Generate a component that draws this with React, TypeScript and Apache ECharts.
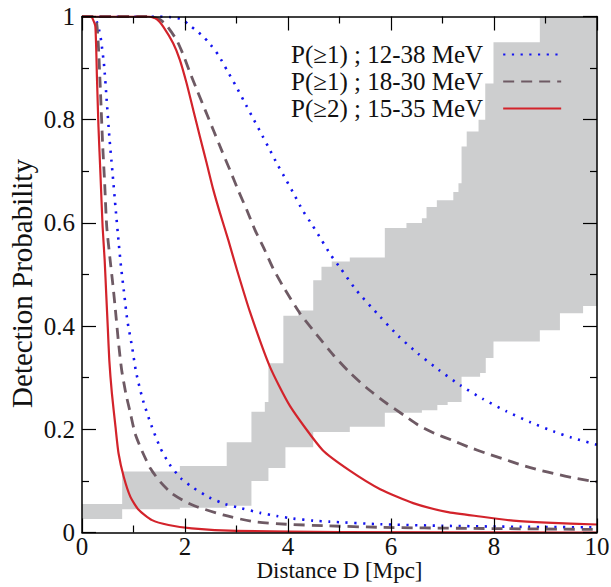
import React, { useEffect, useRef } from 'react';
import * as echarts from 'echarts';

const FONT = '"Liberation Serif", "Times New Roman", serif';
const TEXT = '#111111';
const BAND_COLOR = '#cdcecf';
const BLUE = '#1414f0';
const BROWN = '#6e5a64';
const RED = '#d3232b';

const NAME_12_38 = 'P(≥1) ; 12-38 MeV';
const NAME_18_30 = 'P(≥1) ; 18-30 MeV';
const NAME_15_35 = 'P(≥2) ; 15-35 MeV';

const X_MIN = 0;
const X_MAX = 10;
const X_INTERVAL = 2;
const Y_MIN = 0;
const Y_MAX = 1;
const Y_INTERVAL = 0.2;

// Blue dotted, P(>=1) 12-38 MeV — near curve
const blueNearX = [0, 0.2, 0.26, 0.29, 0.336, 0.37, 0.43, 0.48, 0.53, 0.59, 0.65, 0.71, 0.76, 0.82, 0.88, 0.97, 1.05, 1.17, 1.33, 1.52, 1.7, 1.92, 2.17, 2.47, 2.78, 3.1, 3.46, 3.78, 4.1, 4.49, 4.8, 5.8, 7, 8.5, 10];
const blueNearY = [1, 1, 0.998, 0.989, 0.972, 0.954, 0.904, 0.837, 0.768, 0.7, 0.631, 0.564, 0.513, 0.462, 0.411, 0.361, 0.311, 0.261, 0.212, 0.164, 0.132, 0.105, 0.086, 0.068, 0.055, 0.047, 0.038, 0.032, 0.027, 0.023, 0.021, 0.016, 0.013, 0.011, 0.01];
// Blue dotted — far curve
const blueFarX = [0, 1.5, 1.7, 1.94, 2.06, 2.19, 2.32, 2.45, 2.65, 2.82, 2.99, 3.15, 3.31, 3.47, 3.63, 3.79, 3.96, 4.12, 4.28, 4.47, 4.65, 4.83, 5.02, 5.33, 5.79, 6.14, 6.52, 6.93, 7.35, 7.78, 8.24, 8.7, 9.18, 9.5, 10];
const blueFarY = [1, 1, 0.999, 0.995, 0.985, 0.975, 0.964, 0.951, 0.925, 0.895, 0.865, 0.835, 0.805, 0.775, 0.745, 0.714, 0.684, 0.655, 0.625, 0.596, 0.567, 0.538, 0.512, 0.469, 0.418, 0.381, 0.347, 0.315, 0.285, 0.259, 0.235, 0.214, 0.195, 0.184, 0.17];

// Brown dashed, P(>=1) 18-30 MeV — near curve
const brownNearX = [0, 0.2, 0.28, 0.32, 0.36, 0.4, 0.44, 0.48, 0.55, 0.6, 0.65, 0.71, 0.77, 0.85, 0.94, 1.03, 1.17, 1.33, 1.52, 1.74, 2.0, 2.23, 2.74, 3.33, 3.97, 4.75, 5.8, 7.5, 10];
const brownNearY = [1, 1, 0.99, 0.94, 0.851, 0.754, 0.677, 0.593, 0.525, 0.48, 0.43, 0.367, 0.315, 0.27, 0.231, 0.192, 0.157, 0.124, 0.098, 0.076, 0.06, 0.05, 0.034, 0.021, 0.016, 0.013, 0.01, 0.008, 0.006];
// Brown dashed — far curve
const brownFarX = [0, 1.3, 1.5, 1.64, 1.84, 1.97, 2.09, 2.23, 2.39, 2.55, 2.71, 2.87, 3.03, 3.2, 3.36, 3.55, 3.71, 3.91, 4.23, 4.56, 4.88, 5.2, 5.53, 5.92, 6.24, 6.53, 6.85, 7.18, 7.5, 7.86, 8.2, 8.53, 8.88, 9.22, 9.54, 10];
const brownFarY = [1, 1, 0.995, 0.983, 0.954, 0.925, 0.893, 0.858, 0.819, 0.78, 0.741, 0.703, 0.664, 0.625, 0.586, 0.547, 0.512, 0.476, 0.425, 0.383, 0.344, 0.31, 0.28, 0.25, 0.228, 0.208, 0.192, 0.179, 0.166, 0.153, 0.142, 0.131, 0.121, 0.113, 0.106, 0.098];

// Red solid, P(>=2) 15-35 MeV — near curve
const redNearX = [0, 0.17, 0.21, 0.26, 0.29, 0.32, 0.36, 0.4, 0.44, 0.47, 0.5, 0.53, 0.58, 0.65, 0.71, 0.81, 0.94, 1.1, 1.36, 1.68, 2.13, 3, 5, 10];
const redNearY = [1, 1, 0.995, 0.98, 0.883, 0.786, 0.69, 0.593, 0.528, 0.463, 0.399, 0.334, 0.27, 0.205, 0.153, 0.108, 0.069, 0.044, 0.024, 0.0145, 0.008, 0.003, 0.001, 0];
// Red solid — far curve
const redFarX = [0, 1.3, 1.45, 1.58, 1.77, 1.9, 2.03, 2.16, 2.29, 2.42, 2.55, 2.68, 2.84, 3.0, 3.26, 3.65, 4.04, 4.67, 5.2, 5.79, 6.43, 7.08, 7.73, 8.37, 9.02, 10];
const redFarY = [1, 1, 0.995, 0.98, 0.948, 0.916, 0.871, 0.819, 0.767, 0.716, 0.664, 0.619, 0.567, 0.512, 0.428, 0.321, 0.245, 0.16, 0.12, 0.084, 0.057, 0.04, 0.031, 0.023, 0.019, 0.0155];

// Gray band: step boundaries (value holds from x until the next x)
const bandUpperX = [0, 0.78, 1.9, 2.81, 3.29, 3.55, 3.62, 3.91, 4.2, 4.49, 4.65, 4.85, 5.2, 5.88, 6.3, 6.6, 6.69, 6.89, 7.21, 7.31, 7.37, 7.47, 7.7, 7.83, 7.99, 8.89];
const bandUpperY = [0.055, 0.118, 0.129, 0.175, 0.234, 0.253, 0.328, 0.42, 0.43, 0.489, 0.515, 0.525, 0.533, 0.59, 0.6, 0.609, 0.631, 0.644, 0.66, 0.677, 0.748, 0.777, 0.8, 0.87, 0.95, 1.0];
const bandLowerX = [0, 0.78, 1.9, 2.81, 3.29, 3.62, 3.95, 4.49, 5.2, 5.88, 6.6, 6.9, 7.1, 7.37, 7.73, 7.84, 7.99, 8.89, 9.28, 9.73];
const bandLowerY = [0.026, 0.045, 0.048, 0.052, 0.1, 0.125, 0.165, 0.195, 0.205, 0.232, 0.237, 0.247, 0.253, 0.302, 0.309, 0.338, 0.37, 0.392, 0.425, 0.439];

const pairs = (xs: number[], ys: number[]) => xs.map((x, i) => [x, ys[i]]);

const axisLineStyle = { color: '#000', width: 1.5 };
const tickStyle = { color: '#000', width: 1.2 };

function makeX(position: 'bottom' | 'top', labels: boolean) {
  return {
    type: 'value',
    min: X_MIN,
    max: X_MAX,
    interval: X_INTERVAL,
    position,
    z: 5,
    axisLine: { show: true, onZero: false, lineStyle: axisLineStyle },
    axisTick: { show: true, inside: true, length: 14, lineStyle: tickStyle },
    minorTick: { show: true, splitNumber: 2, length: 7, lineStyle: tickStyle },
    splitLine: { show: false },
    minorSplitLine: { show: false },
    axisLabel: { show: labels, fontFamily: FONT, fontSize: 25, lineHeight: 24, color: TEXT, margin: 2 },
    ...(labels
      ? {
          name: 'Distance D [Mpc]',
          nameLocation: 'middle',
          nameGap: 27,
          nameMoveOverlap: false,
          nameTextStyle: { fontFamily: FONT, fontSize: 23, lineHeight: 22, color: TEXT },
        }
      : {}),
  };
}

function makeY(position: 'left' | 'right', labels: boolean) {
  return {
    type: 'value',
    min: Y_MIN,
    max: Y_MAX,
    interval: Y_INTERVAL,
    position,
    z: 5,
    axisLine: { show: true, onZero: false, lineStyle: axisLineStyle },
    axisTick: { show: true, inside: true, length: 14, lineStyle: tickStyle },
    minorTick: { show: true, splitNumber: 2, length: 7, lineStyle: tickStyle },
    splitLine: { show: false },
    minorSplitLine: { show: false },
    axisLabel: { show: labels, fontFamily: FONT, fontSize: 25, color: TEXT, margin: 7 },
    ...(labels
      ? {
          name: 'Detection Probability',
          nameLocation: 'middle',
          nameGap: 46,
          nameMoveOverlap: false,
          nameTextStyle: { fontFamily: FONT, fontSize: 29, color: TEXT, padding: [0, 18, 0, 0] },
        }
      : {}),
  };
}

function lineSeries(name: string, data: number[][], color: string, width: number, type: any) {
  return {
    type: 'line',
    name,
    data,
    showSymbol: false,
    symbol: 'none',
    smooth: 0.2,
    clip: true,
    z: 3,
    lineStyle: { color, width, type, cap: 'butt', join: 'round' },
    itemStyle: { color },
  };
}

export default function App() {
  const ref = useRef<HTMLDivElement>(null);
  useEffect(() => {
    if (!ref.current) return;
    const chart = echarts.init(ref.current, null, { renderer: 'svg' });
    const option: any = {
      animation: false,
      backgroundColor: '#ffffff',
      grid: { left: 82, right: 14, top: 16.5, bottom: 54.5, containLabel: false, outerBoundsMode: 'none' },
      xAxis: [makeX('bottom', true), makeX('top', false)],
      yAxis: [makeY('left', true), makeY('right', false)],
      legend: {
        orient: 'vertical',
        left: 291,
        top: 41,
        padding: 0,
        itemGap: 0,
        itemWidth: 58,
        itemHeight: 14,
        align: 'right',
        selectedMode: false,
        itemStyle: { opacity: 0, color: 'transparent', borderWidth: 0 },
        textStyle: { fontFamily: FONT, fontSize: 25, color: TEXT, lineHeight: 27, padding: [0, 15, 0, 0] },
        data: [NAME_12_38, NAME_18_30, NAME_15_35],
      },
      series: [
        {
          type: 'custom',
          name: 'band',
          coordinateSystem: 'cartesian2d',
          xAxisIndex: 0,
          yAxisIndex: 0,
          clip: true,
          z: 1,
          silent: true,
          data: [[0, 0]],
          renderItem: (_params: any, api: any) => {
            const pts: number[][] = [];
            for (let i = 0; i < bandUpperX.length; i++) {
              const x1 = i + 1 < bandUpperX.length ? bandUpperX[i + 1] : X_MAX;
              pts.push(api.coord([bandUpperX[i], bandUpperY[i]]));
              pts.push(api.coord([x1, bandUpperY[i]]));
            }
            for (let i = bandLowerX.length - 1; i >= 0; i--) {
              const x1 = i + 1 < bandLowerX.length ? bandLowerX[i + 1] : X_MAX;
              pts.push(api.coord([x1, bandLowerY[i]]));
              pts.push(api.coord([bandLowerX[i], bandLowerY[i]]));
            }
            return { type: 'polygon', shape: { points: pts }, style: { fill: BAND_COLOR, stroke: null } };
          },
        },
        lineSeries(NAME_12_38, pairs(blueNearX, blueNearY), BLUE, 2.6, [2.2, 6.5]),
        lineSeries(NAME_12_38, pairs(blueFarX, blueFarY), BLUE, 2.6, [2.2, 6.5]),
        lineSeries(NAME_18_30, pairs(brownNearX, brownNearY), BROWN, 2.8, [11, 7]),
        lineSeries(NAME_18_30, pairs(brownFarX, brownFarY), BROWN, 2.8, [11, 7]),
        lineSeries(NAME_15_35, pairs(redNearX, redNearY), RED, 2.2, 'solid'),
        lineSeries(NAME_15_35, pairs(redFarX, redFarY), RED, 2.2, 'solid'),
      ],
    };
    chart.setOption(option);
    return () => chart.dispose();
  }, []);
  return <div ref={ref} style={{ position: 'absolute', left: 0, top: 0, width: 611, height: 587 }} />;
}
